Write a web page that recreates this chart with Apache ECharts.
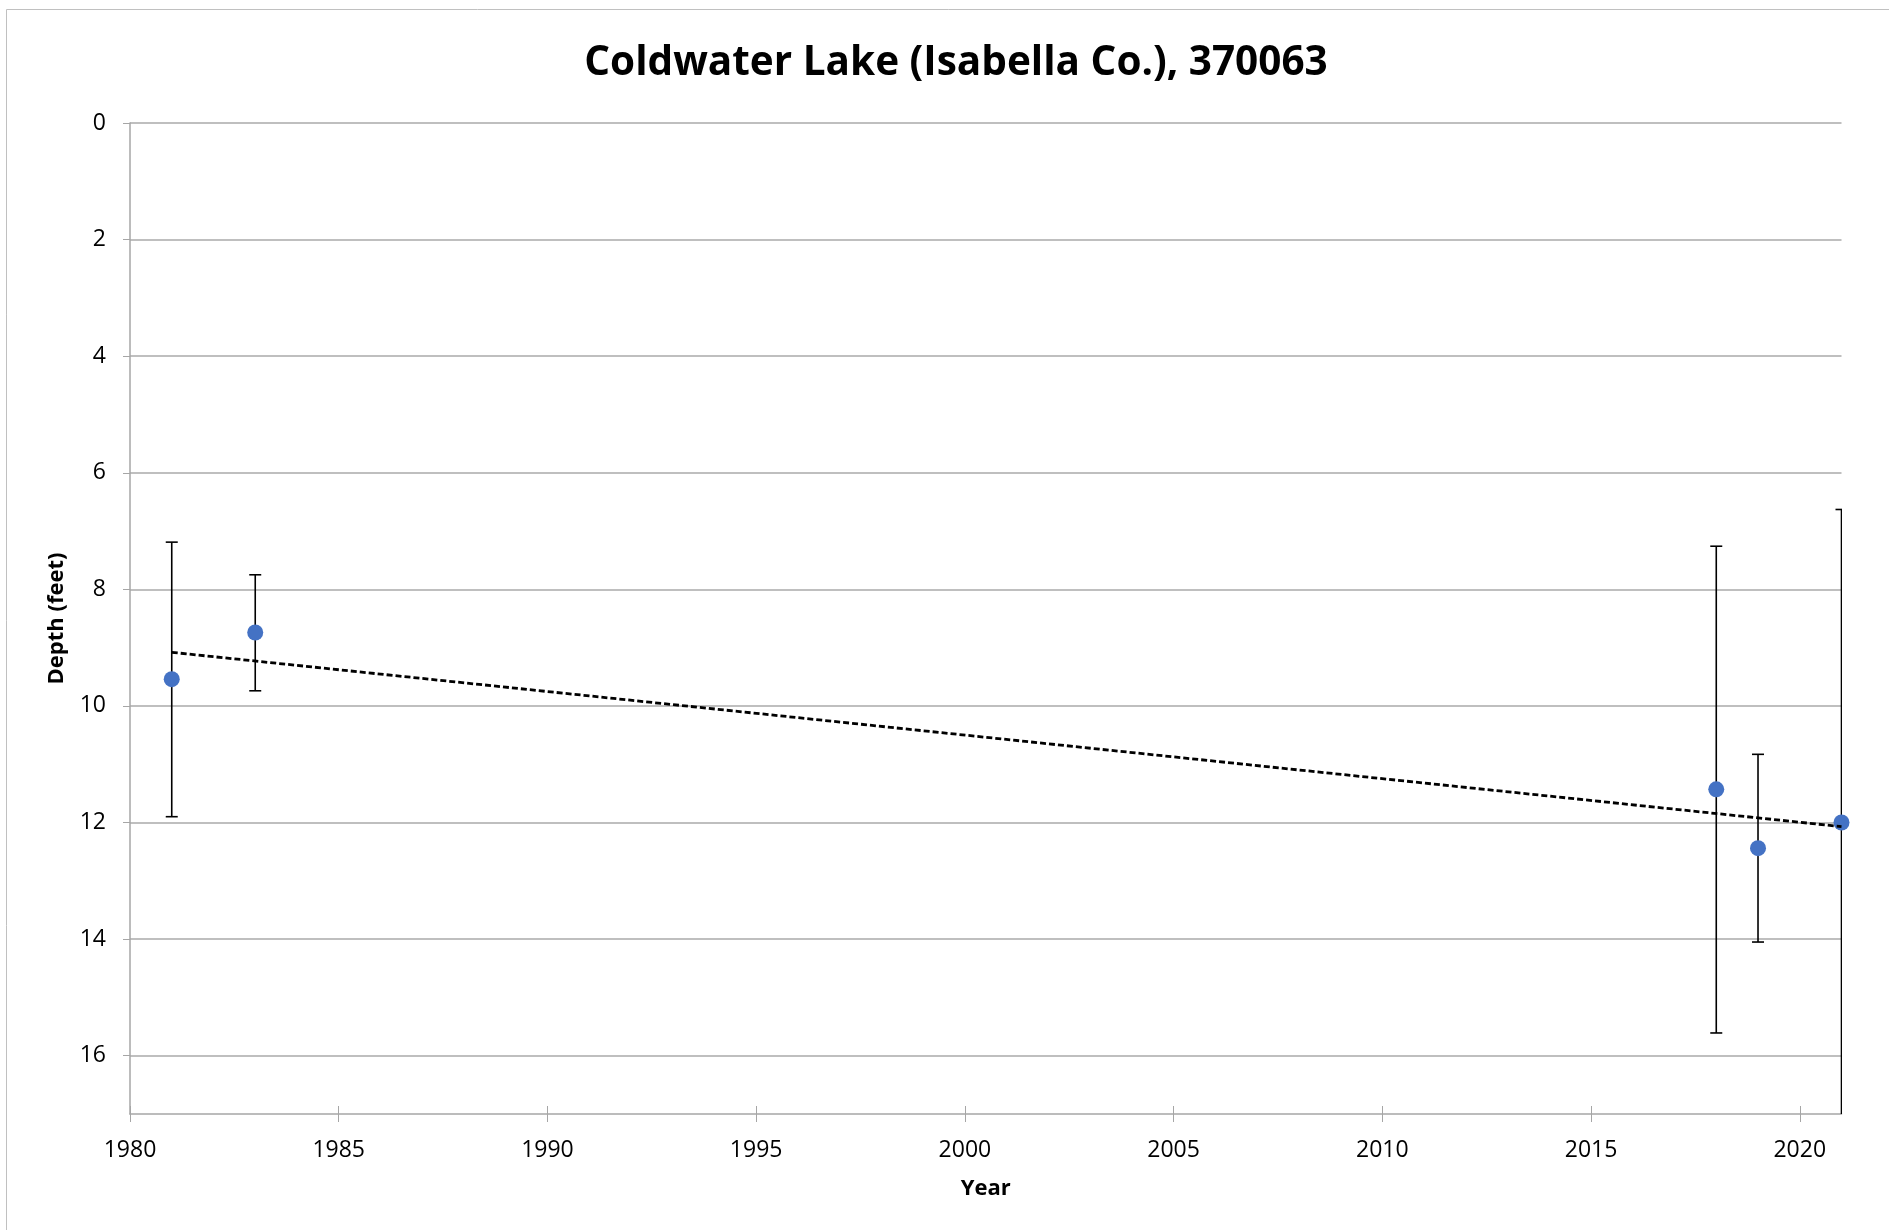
<!DOCTYPE html>
<html>
<head>
<meta charset="utf-8">
<script src="https://cdn.jsdelivr.net/npm/echarts@6/dist/echarts.min.js"></script>
<style>
  html, body { margin: 0; padding: 0; background: #fff; }
  #chart { width: 1889px; height: 1230px; }
</style>
</head>
<body>
<div id="chart"></div>
<script>
// ---- data ----
const years    = [1981, 1983, 2018, 2019, 2021];
const depth    = [9.54, 8.74, 11.43, 12.44, 12.00];
const errTop   = [7.19, 7.75, 7.26, 10.83, 6.63];
const errBottom= [11.90, 9.74, 15.61, 14.05, 17.37];
const trendYears = [1981, 2021];
const trendDepth = [9.08, 12.07];
const xTickLabels = [1980, 1985, 1990, 1995, 2000, 2005, 2010, 2015, 2020];
const yTickLabels = [0, 2, 4, 6, 8, 10, 12, 14, 16];
const titleText = 'Coldwater Lake (Isabella Co.), 370063';

const FONT = '"Open Sans", "Noto Sans", sans-serif';

const chart = echarts.init(document.getElementById('chart'), null, { renderer: 'canvas' });

const pointData = years.map((y, i) => [y, depth[i]]);
const errData = years.map((y, i) => [y, errTop[i], errBottom[i]]);
const trendData = trendYears.map((y, i) => [y, trendDepth[i]]);

const option = {
  backgroundColor: '#ffffff',
  animation: false,
  title: {
    text: titleText,
    left: 951,
    top: 38,
    textAlign: 'center',
    textStyle: { fontFamily: FONT, fontWeight: 'bold', fontSize: 40.5, color: '#000' }
  },
  graphic: [{
    type: 'rect',
    shape: { x: 6.5, y: 9.5, width: 2000, height: 2000 },
    style: { fill: 'none', stroke: '#c0c0c0', lineWidth: 1 },
    silent: true, z: -10
  }],
  grid: { left: 130, right: 47.5, top: 123, bottom: 116, containLabel: false },
  xAxis: [{
    type: 'value', min: 1980, max: 2021, interval: 5, position: 'bottom',
    name: 'Year', nameLocation: 'middle', nameGap: 64,
    nameTextStyle: { fontFamily: FONT, fontWeight: 'bold', fontSize: 22, color: '#000' },
    axisLine: { show: true, onZero: false, lineStyle: { color: '#a6a6a6', width: 1.5 } },
    axisTick: { show: true, inside: true, length: 8, customValues: xTickLabels, lineStyle: { color: '#a6a6a6', width: 1 } },
    axisLabel: { fontFamily: FONT, fontSize: 23, color: '#000', margin: 25, customValues: xTickLabels,
                 formatter: function (v) { return String(v); } },
    splitLine: { show: false }
  }, {
    type: 'value', min: 1980, max: 2021, interval: 5, position: 'bottom',
    axisLine: { show: false, onZero: false },
    axisTick: { show: true, inside: false, length: 8, customValues: xTickLabels, lineStyle: { color: '#a6a6a6', width: 1 } },
    axisLabel: { show: false },
    splitLine: { show: false }
  }],
  yAxis: {
    type: 'value', min: 0, max: 17, interval: 2, inverse: true,
    name: 'Depth (feet)', nameLocation: 'middle', nameGap: 62, nameRotate: 90,
    nameTextStyle: { fontFamily: FONT, fontWeight: 'bold', fontSize: 22, color: '#000' },
    axisLine: { show: true, onZero: false, lineStyle: { color: '#a6a6a6', width: 1.5 } },
    axisTick: { show: true, inside: false, length: 7, customValues: yTickLabels, lineStyle: { color: '#a6a6a6', width: 1 } },
    axisLabel: { fontFamily: FONT, fontSize: 23, color: '#000', margin: 24, customValues: yTickLabels,
                 formatter: function (v) { return String(v); } },
    splitLine: { show: true, lineStyle: { color: '#bfbfbf', width: 2 } }
  },
  series: [{
    type: 'custom',
    name: 'error',
    xAxisIndex: 0,
    clip: true,
    z: 2,
    data: errData,
    renderItem: function (params, api) {
      const x = api.value(0);
      const pTop = api.coord([x, api.value(1)]);
      const pBot = api.coord([x, api.value(2)]);
      const cap = 6;
      const st = { stroke: '#000', lineWidth: 1.6 };
      return {
        type: 'group',
        children: [
          { type: 'line', shape: { x1: pTop[0], y1: pTop[1], x2: pBot[0], y2: pBot[1] }, style: st },
          { type: 'line', shape: { x1: pTop[0] - cap, y1: pTop[1], x2: pTop[0] + cap, y2: pTop[1] }, style: st },
          { type: 'line', shape: { x1: pBot[0] - cap, y1: pBot[1], x2: pBot[0] + cap, y2: pBot[1] }, style: st }
        ]
      };
    }
  }, {
    type: 'scatter',
    name: 'Depth',
    xAxisIndex: 0,
    z: 3,
    symbol: 'circle',
    symbolSize: 16,
    itemStyle: { color: '#4472C4', opacity: 1 },
    data: pointData
  }, {
    type: 'line',
    name: 'Trend',
    xAxisIndex: 0,
    z: 4,
    symbol: 'none',
    lineStyle: { color: '#000', width: 2.8, type: [6, 3] },
    data: trendData
  }]
};

chart.setOption(option);
</script>
</body>
</html>
